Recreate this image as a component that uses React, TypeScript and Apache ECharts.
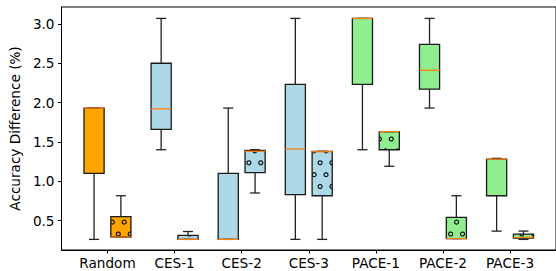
import React, { useEffect, useRef } from 'react';
import * as echarts from 'echarts';

const categories = ['Random', 'CES-1', 'CES-2', 'CES-3', 'PACE-1', 'PACE-2', 'PACE-3'];
// [min, Q1, median, Q3, max]
const solidStats = [
  [0.26, 1.10, 1.93, 1.93, 1.93],
  [1.40, 1.66, 1.92, 2.50, 3.07],
  [0.26, 0.26, 0.26, 1.10, 1.93],
  [0.26, 0.83, 1.41, 2.23, 3.07],
  [1.40, 2.23, 3.07, 3.07, 3.07],
  [1.93, 2.17, 2.41, 2.74, 3.07],
  [0.365, 0.815, 1.28, 1.28, 1.29],
];
const hatchStats = [
  [0.29, 0.29, 0.29, 0.55, 0.815],
  [0.26, 0.26, 0.26, 0.31, 0.36],
  [0.85, 1.11, 1.38, 1.39, 1.40],
  [0.26, 0.815, 1.375, 1.38, 1.38],
  [1.19, 1.40, 1.63, 1.63, 1.63],
  [0.27, 0.27, 0.27, 0.54, 0.815],
  [0.26, 0.275, 0.285, 0.328, 0.366],
];
const boxColors = ['#FFA500', '#ADD8E6', '#ADD8E6', '#ADD8E6', '#90EE90', '#90EE90', '#90EE90'];
const yTicks = [0.5, 1.0, 1.5, 2.0, 2.5, 3.0];
const xTicks = [1, 2, 3, 4, 5, 6, 7];

const FONT = 'DejaVu Sans';
const HATCH = 11.87;
const HX0 = 118.3;
const HY0 = 234;
const HR = 2.0;

function makeRender(hatched: boolean) {
  return (params: any, api: any) => {
    const idx = params.dataIndex;
    const x = api.value(0);
    const mn = api.value(1), q1 = api.value(2), md = api.value(3), q3 = api.value(4), mx = api.value(5);
    const [xl, yq3] = api.coord([x - 0.15, q3]);
    const [xr, yq1] = api.coord([x + 0.15, q1]);
    const [xc, ymin] = api.coord([x, mn]);
    const ymax = api.coord([x, mx])[1];
    const ymed = api.coord([x, md])[1];
    const capL = api.coord([x - 0.075, mn])[0];
    const capR = api.coord([x + 0.075, mn])[0];
    const lineStyle = { stroke: '#222', lineWidth: 1.3, fill: null };
    const children: any[] = [];
    const h = Math.max(yq1 - yq3, 0.01);
    children.push({ type: 'rect', shape: { x: xl, y: yq3, width: xr - xl, height: h }, style: { fill: boxColors[idx], stroke: null } });
    if (hatched) {
      const circles: any[] = [];
      const kMin = Math.ceil((yq3 - HR - HY0) / HATCH);
      const kMax = Math.floor((yq1 + HR - HY0) / HATCH);
      for (let k = kMin; k <= kMax; k++) {
        const cy = HY0 + k * HATCH;
        const off = Math.abs(k) % 2 === 1 ? HATCH / 2 : 0;
        const mMin = Math.ceil((xl - HR - HX0 - off) / HATCH);
        const mMax = Math.floor((xr + HR - HX0 - off) / HATCH);
        for (let m = mMin; m <= mMax; m++) {
          const cx = HX0 + off + m * HATCH;
          circles.push({ type: 'circle', shape: { cx, cy, r: HR }, style: { fill: null, stroke: '#000', lineWidth: 1.1 } });
        }
      }
      children.push({
        type: 'group',
        children: circles,
        clipPath: { type: 'rect', shape: { x: xl, y: yq3, width: xr - xl, height: h } },
      });
    }
    children.push({ type: 'rect', shape: { x: xl, y: yq3, width: xr - xl, height: h }, style: { fill: null, stroke: '#1a1a1a', lineWidth: 1.3 } });
    // whiskers
    if (ymin - yq1 > 0.3) children.push({ type: 'line', shape: { x1: xc, y1: yq1, x2: xc, y2: ymin }, style: lineStyle });
    if (yq3 - ymax > 0.3) children.push({ type: 'line', shape: { x1: xc, y1: yq3, x2: xc, y2: ymax }, style: lineStyle });
    children.push({ type: 'line', shape: { x1: capL, y1: ymin, x2: capR, y2: ymin }, style: lineStyle });
    children.push({ type: 'line', shape: { x1: capL, y1: ymax, x2: capR, y2: ymax }, style: lineStyle });
    // median
    children.push({ type: 'line', shape: { x1: xl, y1: ymed, x2: xr, y2: ymed }, style: { stroke: '#ff7f0e', lineWidth: 1.3 } });
    return { type: 'group', children };
  };
}

export default function App() {
  const ref = useRef<HTMLDivElement>(null);
  useEffect(() => {
    if (!ref.current) return;
    const chart = echarts.init(ref.current, null, { renderer: 'svg' });
    const solidData = solidStats.map((s, i) => [i + 1 - 0.2, ...s]);
    const hatchData = hatchStats.map((s, i) => [i + 1 + 0.2, ...s]);
    chart.setOption({
      animation: false,
      grid: {
        left: 57.5, top: 7, width: 500, height: 243,
        show: true, borderColor: '#000', borderWidth: 1, backgroundColor: 'transparent',
      },
      xAxis: {
        type: 'value', min: 0.315, max: 7.685,
        axisLine: { show: true, lineStyle: { color: '#000', width: 1 } },
        axisTick: { show: true, length: 3.5, customValues: xTicks, lineStyle: { color: '#000' } },
        axisLabel: {
          customValues: xTicks, margin: 6, color: '#000', fontFamily: FONT, fontSize: 13.6,
          formatter: (v: number) => categories[Math.round(v) - 1] ?? '',
        },
        splitLine: { show: false },
      },
      yAxis: {
        type: 'value', min: 0.125, max: 3.215,
        name: 'Accuracy Difference (%)', nameLocation: 'middle', nameGap: 31,
        nameTextStyle: { color: '#000', fontFamily: FONT, fontSize: 13.6 },
        axisLine: { show: true, lineStyle: { color: '#000', width: 1 } },
        axisTick: { show: true, length: 3.5, customValues: yTicks, lineStyle: { color: '#000' } },
        axisLabel: {
          customValues: yTicks, margin: 7, color: '#000', fontFamily: FONT, fontSize: 13.6,
          formatter: (v: number) => v.toFixed(1),
        },
        splitLine: { show: false },
      },
      series: [
        { type: 'custom', name: 'solid', data: solidData, encode: { x: 0, y: [1, 2, 3, 4, 5] }, renderItem: makeRender(false) },
        { type: 'custom', name: 'hatched', data: hatchData, encode: { x: 0, y: [1, 2, 3, 4, 5] }, renderItem: makeRender(true) },
      ],
    });
    return () => chart.dispose();
  }, []);
  return <div ref={ref} style={{ position: 'absolute', left: 0, top: 0, width: 556, height: 271 }} />;
}
